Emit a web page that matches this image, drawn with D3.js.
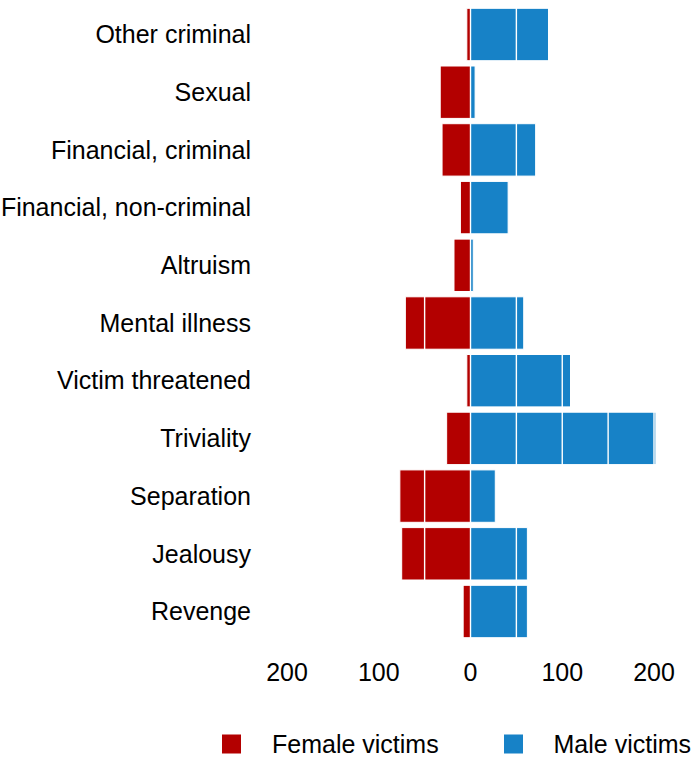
<!DOCTYPE html>
<html>
<head>
<meta charset="utf-8">
<script src="https://cdn.jsdelivr.net/npm/d3@7"></script>
<style>
  html, body { margin: 0; padding: 0; background: #fff; }
  svg { display: block; }
  text { font-family: "Liberation Sans", Arial, Helvetica, sans-serif; fill: #000; }
</style>
</head>
<body>
<svg id="chart" width="693" height="758"></svg>
<script>
const categories = ["Other criminal", "Sexual", "Financial, criminal", "Financial, non-criminal",
  "Altruism", "Mental illness", "Victim threatened", "Triviality", "Separation", "Jealousy", "Revenge"];
const femaleVictims = [4, 33, 31, 11, 18, 71, 4, 26, 77, 75, 8];
const maleVictims   = [85, 5, 71, 41, 3, 58, 109, 202, 27, 62, 62];
const tickValues = [-200, -100, 0, 100, 200];
const gridValues = [-200, -150, -100, -50, 0, 50, 100, 150, 200];
const seriesNames = ["Female victims", "Male victims"];
const seriesColors = ["#b30000", "#1782c7"];

const svg = d3.select("#chart");
const x = d3.scaleLinear().domain([-200, 200]).range([287, 654]);
const y = d3.scaleBand().domain(categories).range([5.65, 640.35])
  .paddingInner(0.092).paddingOuter(0.046);

const rows = categories.map((c, i) => ({ c, f: femaleVictims[i], m: maleVictims[i] }));

// female bars (left)
svg.append("g").selectAll("rect").data(rows).join("rect")
  .attr("x", d => x(-d.f)).attr("width", d => x(0) - x(-d.f))
  .attr("y", d => y(d.c)).attr("height", y.bandwidth())
  .attr("fill", seriesColors[0]).attr("stroke", "#fff").attr("stroke-width", 1);

// male bars (right)
svg.append("g").selectAll("rect").data(rows).join("rect")
  .attr("x", x(0)).attr("width", d => x(d.m) - x(0))
  .attr("y", d => y(d.c)).attr("height", y.bandwidth())
  .attr("fill", seriesColors[1]).attr("stroke", "#fff").attr("stroke-width", 1);

// white gridlines over bars
svg.append("g").selectAll("line").data(gridValues).join("line")
  .attr("x1", d => x(d)).attr("x2", d => x(d))
  .attr("y1", 0).attr("y2", 645)
  .attr("stroke", "#fff").attr("stroke-width", 1.4);

// category labels
svg.append("g").selectAll("text").data(categories).join("text")
  .attr("x", 251).attr("y", d => y(d) + y.bandwidth() / 2)
  .attr("dy", "0.35em").attr("text-anchor", "end")
  .style("font-size", "25px").text(d => d);

// x axis tick labels
svg.append("g").selectAll("text").data(tickValues).join("text")
  .attr("x", d => x(d)).attr("y", 680.5).attr("text-anchor", "middle")
  .style("font-size", "25px").text(d => Math.abs(d));

// legend
const legendX = [222, 504];
const legendTextX = [272, 553.5];
const lg = svg.append("g").selectAll("g").data(seriesNames).join("g");
lg.append("rect")
  .attr("x", (d, i) => legendX[i]).attr("y", 734.5)
  .attr("width", 19).attr("height", 19)
  .attr("fill", (d, i) => seriesColors[i]);
lg.append("text")
  .attr("x", (d, i) => legendTextX[i]).attr("y", 752.5)
  .style("font-size", "25px").text(d => d);
</script>
</body>
</html>
